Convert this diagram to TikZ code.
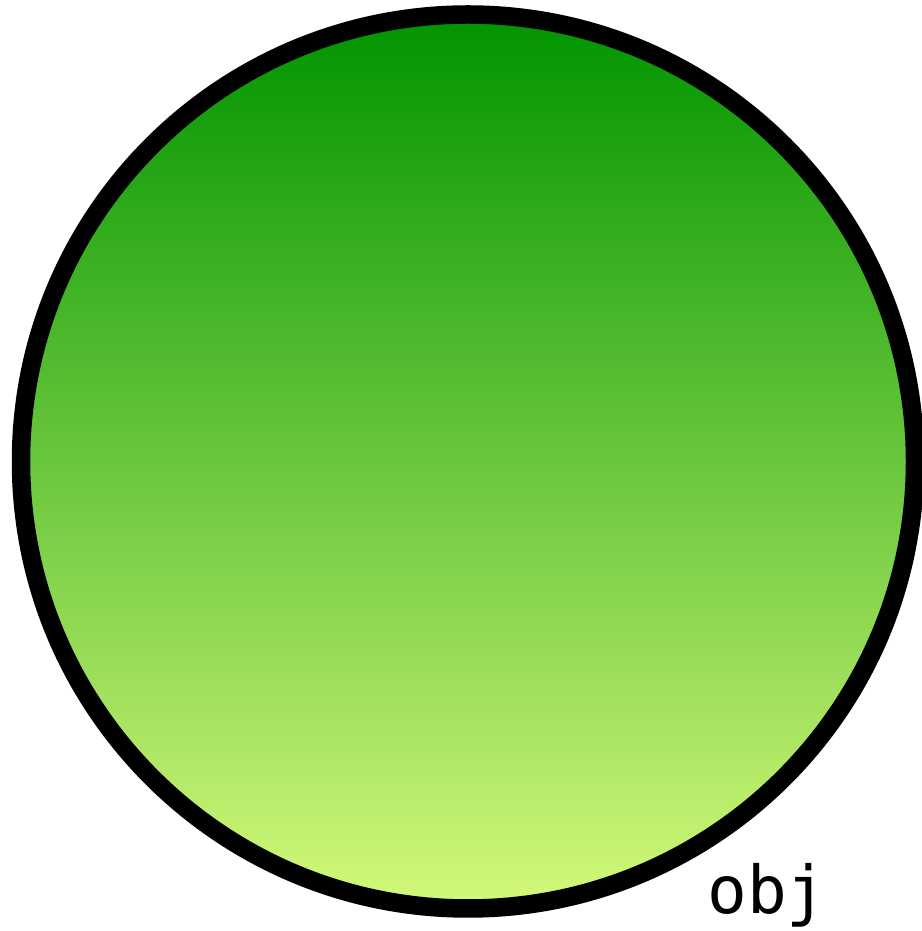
\documentclass[tikz,border=0pt]{standalone}
\usepackage{fontspec}
\newfontfamily\monofont{DejaVu Sans Mono}
\definecolor{gtop}{RGB}{0,148,0}
\definecolor{gbot}{RGB}{212,249,122}
\tikzset{
  ball/.style={circle, draw=black, line width=18.5pt, top color=gtop, bottom color=gbot, minimum size=894pt, inner sep=0pt},
  lbl/.style={font=\monofont\fontsize{66}{66}\selectfont, inner sep=0pt, anchor=base}
}
\begin{document}
\begin{tikzpicture}[x=1pt,y=1pt]
\useasboundingbox (0,0) rectangle (921,931);
\node[ball] (obj) at (468,469.5) {};
\node[lbl] (objlabel) at (767,17) {obj};
\end{tikzpicture}
\end{document}
